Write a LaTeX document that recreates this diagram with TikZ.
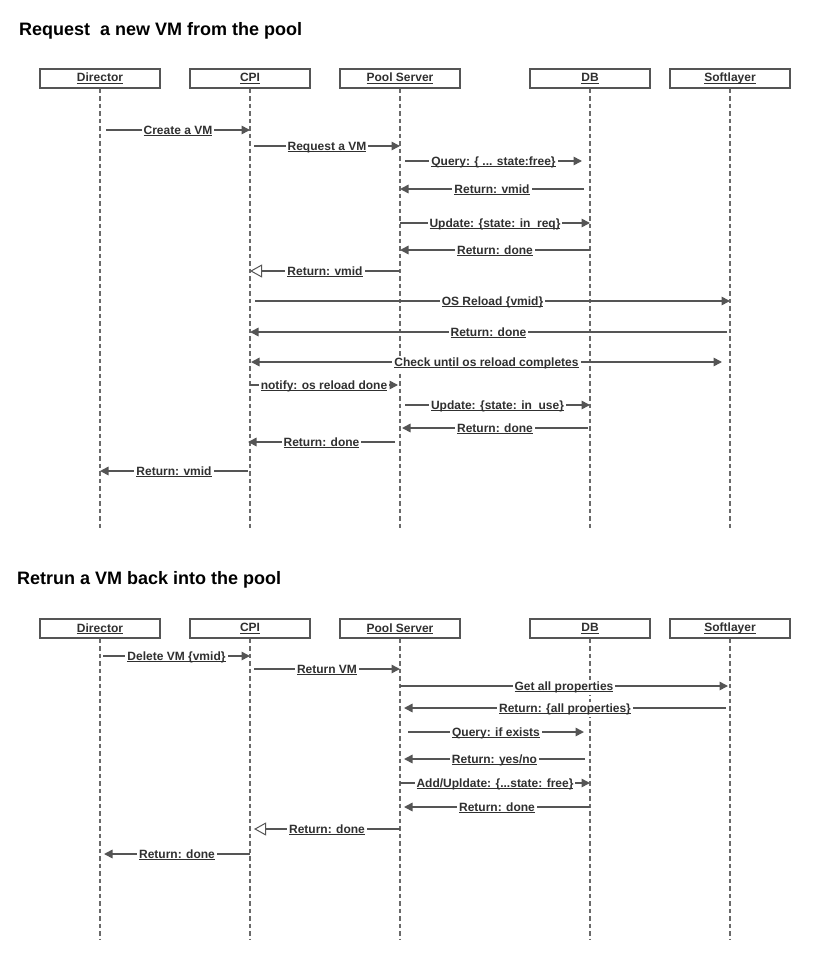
\documentclass[tikz,border=0pt]{standalone}
\usepackage{fontspec}
\setmainfont{Liberation Sans}
\usetikzlibrary{arrows.meta}
\definecolor{txtc}{HTML}{303030}
\definecolor{linec}{HTML}{555555}
\definecolor{lifec}{HTML}{6A6A6A}
\newcommand\ulx[1]{\setbox0\hbox{#1}\rlap{\rule[-1.7pt]{\wd0}{0.8pt}}\box0}
\tikzset{
  actor/.style={draw=linec, line width=1.2pt, fill=white, minimum width=120pt, minimum height=19pt, inner sep=0pt, text=txtc, font=\bfseries\fontsize{12}{14}\selectfont},
  lifeline/.style={draw=lifec, line width=1.2pt, dash pattern=on 4.5pt off 3pt},
  msgline/.style={draw=linec, line width=1.6pt},
  filled/.style={-{Triangle[length=8.5pt,width=8.5pt]}},
  openh/.style={-{Triangle[open,length=12pt,width=13pt,line width=1pt]}},
  both/.style={{Triangle[length=8.5pt,width=8.5pt]}-{Triangle[length=8.5pt,width=8.5pt]}},
  lbl/.style={fill=white, anchor=base, yshift=-4.5pt, inner xsep=2pt, inner ysep=2pt, text=txtc, font=\bfseries\fontsize{12}{14}\selectfont},
  ttl/.style={anchor=base west, inner sep=0pt, text=black, font=\bfseries\fontsize{18}{21}\selectfont},
}
\newcommand\msg[6]{%
  \coordinate (#1a) at (#2,#4);
  \coordinate (#1b) at (#3,#4);
  \draw[msgline,#6] (#1a) -- node[lbl]{\ulx{#5}} (#1b);}
\begin{document}
\begin{tikzpicture}[x=1pt,y=-1pt]
\useasboundingbox (0,0) rectangle (812,960);
\fill[white] (0,0) rectangle (812,960);
% ---------- top ----------
\node[ttl] (t1) at (19,35.5) {Request\ \ a new VM from the pool};
\foreach \n/\x/\t in {D/100/Director,C/250/CPI,P/400/Pool Server,B/590/DB,S/730/Softlayer}{
  \node[actor] (\n1) at (\x,78.5) {\ulx{\t}};
  \coordinate (\n1e) at (\x,528);
  \draw[lifeline] (\n1.south) -- (\n1e);
}
\msg{a1}{106}{250}{130}{Create a VM}{filled}
\msg{a2}{254}{400}{146}{Request a VM}{filled}
\msg{a3}{405}{582}{161}{Query: \{ ... state:free\}}{filled}
\msg{a4}{584}{400}{189}{Return: vmid}{filled}
\msg{a5}{400}{590}{223}{Update: \{state: in\_req\}}{filled}
\msg{a6}{590}{400}{250}{Return: done}{filled}
\msg{a7}{400}{250}{271}{Return: vmid}{openh}
\msg{a8}{255}{730}{301}{OS Reload \{vmid\}}{filled}
\msg{a9}{727}{250}{332}{Return: done}{filled}
\msg{a10}{251}{722}{362}{Check until os reload completes}{both}
\msg{a11}{250}{398}{385}{notify: os reload done}{filled}
\msg{a12}{405}{590}{405}{Update: \{state: in\_use\}}{filled}
\msg{a13}{588}{402}{428}{Return: done}{filled}
\msg{a14}{395}{248}{442}{Return: done}{filled}
\msg{a15}{248}{100}{471}{Return: vmid}{filled}
% ---------- bottom ----------
\node[ttl] (t2) at (17,584.5) {Retrun a VM back into the pool};
\foreach \n/\x/\t in {D/100/Director,C/250/CPI,P/400/Pool Server,B/590/DB,S/730/Softlayer}{
  \node[actor] (\n2) at (\x,628.5) {\ulx{\t}};
  \coordinate (\n2e) at (\x,940);
  \draw[lifeline] (\n2.south) -- (\n2e);
}
\msg{b1}{103}{250}{656}{Delete VM \{vmid\}}{filled}
\msg{b2}{254}{400}{669}{Return VM}{filled}
\msg{b3}{400}{728}{686}{Get all properties}{filled}
\msg{b4}{726}{404}{708}{Return: \{all properties\}}{filled}
\msg{b5}{408}{584}{732}{Query: if exists}{filled}
\msg{b6}{585}{404}{759}{Return: yes/no}{filled}
\msg{b7}{400}{590}{783}{Add/Upldate: \{...state: free\}}{filled}
\msg{b8}{590}{404}{807}{Return: done}{filled}
\msg{b9}{400}{254}{829}{Return: done}{openh}
\msg{b10}{250}{104}{854}{Return: done}{filled}
\end{tikzpicture}
\end{document}
